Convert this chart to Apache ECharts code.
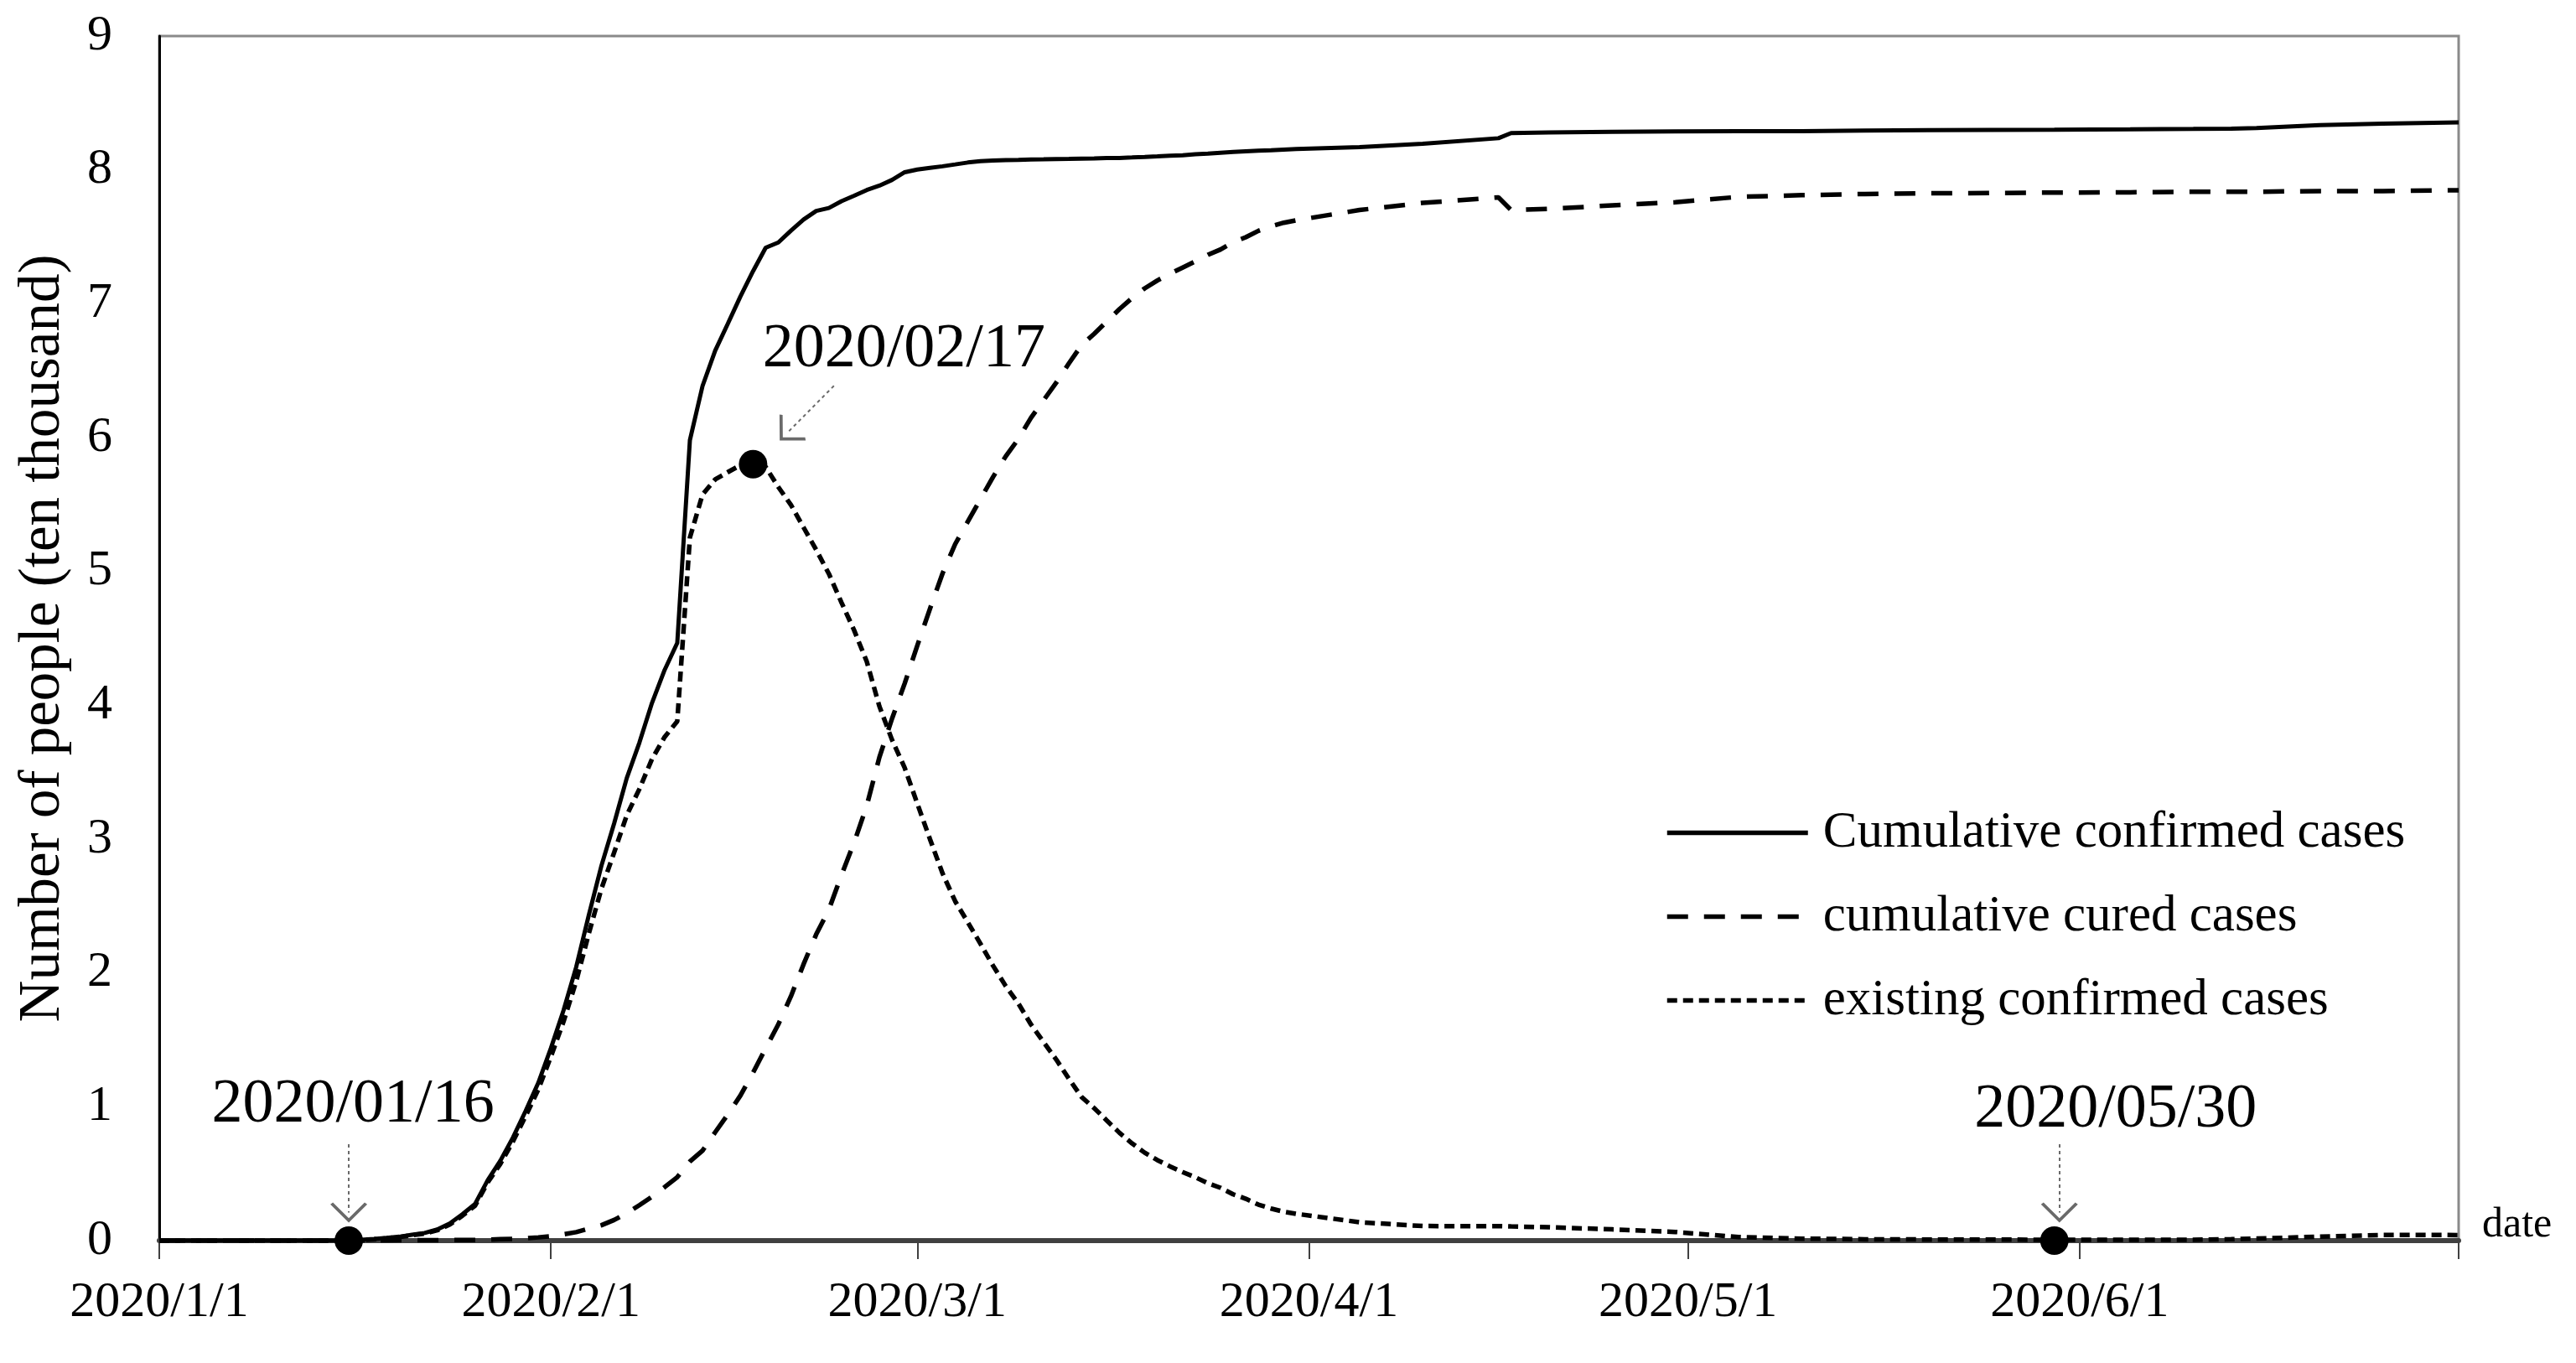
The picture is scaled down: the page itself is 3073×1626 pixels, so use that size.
<!DOCTYPE html>
<html><head><meta charset="utf-8">
<script src="https://cdn.jsdelivr.net/npm/echarts@6/dist/echarts.min.js"></script>
<style>html,body{margin:0;padding:0;background:#fff}#c{width:3073px;height:1626px}</style>
</head><body><div id="c"></div>
<script>
// ---------- DATA (ten thousand people) ----------
const dates = [
 '2020-01-01','2020-01-15',
 '2020-01-16','2020-01-17','2020-01-18','2020-01-19','2020-01-20','2020-01-21','2020-01-22','2020-01-23',
 '2020-01-24','2020-01-25','2020-01-26','2020-01-27','2020-01-28','2020-01-29','2020-01-30','2020-01-31',
 '2020-02-01','2020-02-02','2020-02-03','2020-02-04','2020-02-05','2020-02-06','2020-02-07','2020-02-08',
 '2020-02-09','2020-02-10','2020-02-11','2020-02-12','2020-02-13','2020-02-14','2020-02-15','2020-02-16',
 '2020-02-17','2020-02-18','2020-02-19','2020-02-20','2020-02-21','2020-02-22','2020-02-23','2020-02-24',
 '2020-02-25','2020-02-26','2020-02-27','2020-02-28','2020-02-29',
 '2020-03-01','2020-03-02','2020-03-03','2020-03-04','2020-03-05','2020-03-06','2020-03-07','2020-03-08',
 '2020-03-09','2020-03-10','2020-03-11','2020-03-12','2020-03-13','2020-03-14','2020-03-15','2020-03-16',
 '2020-03-17','2020-03-18','2020-03-19','2020-03-20','2020-03-21','2020-03-22','2020-03-23','2020-03-24',
 '2020-03-25','2020-03-26','2020-03-27','2020-03-28','2020-03-29','2020-03-30','2020-03-31',
 '2020-04-05','2020-04-10','2020-04-16','2020-04-17','2020-04-20','2020-04-25','2020-04-30',
 '2020-05-05','2020-05-10','2020-05-15','2020-05-20','2020-05-25','2020-05-30',
 '2020-06-05','2020-06-10','2020-06-13','2020-06-15','2020-06-20','2020-06-25','2020-06-30','2020-07-01'
];
const confirmed = [
 0,0,
 0.0045,0.0062,0.0121,0.0198,0.0291,0.0440,0.0571,0.0830,0.1287,0.1975,0.2744,0.4515,0.5974,0.7711,0.9692,1.1791,
 1.4380,1.7205,2.0438,2.4324,2.8018,3.1161,3.4546,3.7198,4.0171,4.2638,4.4653,5.9804,6.3851,6.6492,6.8500,7.0548,
 7.2436,7.4185,7.4576,7.5465,7.6288,7.6936,7.7150,7.7658,7.8064,7.8497,7.8824,7.9251,7.9824,
 8.0026,8.0151,8.0270,8.0409,8.0552,8.0651,8.0695,8.0735,8.0754,8.0778,8.0793,8.0813,8.0824,8.0844,8.0860,8.0881,
 8.0894,8.0928,8.0967,8.1008,8.1054,8.1093,8.1171,8.1218,8.1285,8.1340,8.1394,8.1439,8.1470,8.1518,8.1554,
 8.1708,8.1953,8.2367,8.2750,8.2800,8.2840,8.2870,
 8.2885,8.2895,8.2935,8.2965,8.2985,8.3001,
 8.3030,8.3057,8.3075,8.3132,8.3352,8.3462,8.3531,8.3545
];
const cured = [
 0,0,
 0.0012,0.0015,0.0017,0.0020,0.0025,0.0028,0.0028,0.0034,0.0038,0.0049,0.0051,0.0060,0.0103,0.0124,0.0171,0.0243,
 0.0328,0.0475,0.0632,0.0892,0.1153,0.1540,0.2050,0.2649,0.3281,0.3996,0.4740,0.5911,0.6723,0.8096,0.9419,1.0844,
 1.2552,1.4376,1.6155,1.8264,2.0659,2.2888,2.4734,2.7323,2.9745,3.2495,3.6117,3.9002,4.1625,
 4.4462,4.7204,4.9856,5.2045,5.3726,5.5404,5.7065,5.8600,5.9897,6.1475,6.2793,6.4111,6.5541,6.6911,6.7749,6.8679,
 6.9601,7.0420,7.1150,7.1740,7.2244,7.2703,7.3159,7.3650,7.4051,7.4588,7.4971,7.5448,7.5790,7.6052,7.6238,
 7.7001,7.7531,7.7944,7.7000,7.7090,7.7346,7.7582,
 7.7984,7.8109,7.8198,7.8249,7.8272,7.8304,
 7.8327,7.8363,7.8367,7.8367,7.8421,7.8413,7.8479,7.8482
];
const existing = [
 0,0,
 0.0030,0.0045,0.0100,0.0175,0.0260,0.0403,0.0526,0.0771,0.1208,0.1870,0.2613,0.4349,0.5739,0.7417,0.9308,1.1289,
 1.3748,1.6369,1.9381,2.2942,2.6302,2.8985,3.1774,3.3738,3.5982,3.7626,3.8800,5.2526,5.5748,5.6873,5.7416,5.7934,
 5.8016,5.7805,5.6303,5.4965,5.3284,5.1606,4.9824,4.7672,4.5604,4.3258,3.9919,3.7414,3.5329,
 3.2652,3.0004,2.7433,2.5352,2.3784,2.2177,2.0533,1.9016,1.7721,1.6145,1.4831,1.3526,1.2094,1.0734,0.9898,0.8976,
 0.8056,0.7263,0.6569,0.6013,0.5549,0.5120,0.4735,0.4287,0.3947,0.3460,0.3128,0.2691,0.2396,0.2161,0.2004,
 0.1376,0.1089,0.1081,0.1058,0.1000,0.0838,0.0647,
 0.0267,0.0148,0.0101,0.0084,0.0079,0.0063,
 0.0069,0.0060,0.0108,0.0149,0.0297,0.0415,0.0418,0.0410
];
const seriesNames = ['Cumulative confirmed cases','cumulative cured cases','existing confirmed cases'];
const keyDates = ['2020-01-16','2020-02-17','2020-05-30'];
const keyValues = [0, 5.8016, 0];
const keyLabels = ['2020/01/16','2020/02/17','2020/05/30'];
const xLabelDates = ['2020-01-01','2020-02-01','2020-03-01','2020-04-01','2020-05-01','2020-06-01'];
const xTickDates = ['2020-01-01','2020-02-01','2020-03-01','2020-04-01','2020-05-01','2020-06-01','2020-07-01'];
const xRange = ['2020-01-01','2020-07-01'];
const yMin = 0, yMax = 9, yStep = 1;
const yTitle = 'Number of people (ten thousand)';
const xTitle = 'date';

// ---------- BUILD ----------
// x is expressed in days since the start date of the axis
const DAY = 86400000;
function dateObj(s){ const p = s.split('-').map(Number); return new Date(Date.UTC(p[0], p[1]-1, p[2])); }
const T0 = dateObj(xRange[0]).getTime();
function dayNum(s){ return Math.round((dateObj(s).getTime() - T0) / DAY); }
function dayLabel(n){ const d = new Date(T0 + Math.round(n) * DAY); return d.getUTCFullYear()+'/'+(d.getUTCMonth()+1)+'/'+d.getUTCDate(); }
const FONT = 'Liberation Serif';
const toPairs = vals => dates.map((d,i) => [dayNum(d), vals[i]]);

// annotation arrow geometry relative to key points (days, value units)
const arrowRel = [
  {from:[0,0.72], to:[0,0.21]},
  {from:[6.4,0.585], to:[2.67,0.23]},
  {from:[0.4,0.72], to:[0.4,0.21]}
];
const labelOffsets = [[5,-161],[180,-136],[73,-155]];
const chevron = 'path://M0,10 L10,0 L20,10 L18.6,11 L10,2.4 L1.4,11 Z';

const chart = echarts.init(document.getElementById('c'), null, {renderer:'canvas'});
const option = {
  animation: false,
  backgroundColor: '#fff',
  textStyle: {fontFamily: FONT, color: '#000'},
  grid: {left:190, right:140, top:43, bottom:146, show:true, borderColor:'#8a8a8a', borderWidth:3, containLabel:false},
  legend: {
    data: seriesNames, orient:'vertical', left:1981, top:958,
    itemWidth:168, itemHeight:40, itemGap:39,
    itemStyle:{color:'rgba(0,0,0,0)', borderColor:'rgba(0,0,0,0)', borderWidth:0, opacity:0},
    lineStyle:{width:5.5},
    textStyle:{fontFamily:FONT, fontSize:61, color:'#000', padding:[0,0,0,13]}
  },
  xAxis: {
    type:'value', min: dayNum(xRange[0]), max: dayNum(xRange[1]),
    name: xTitle, nameLocation:'end', nameGap:28,
    nameTextStyle:{fontFamily:FONT, fontSize:50, color:'#000', verticalAlign:'bottom', lineHeight:36},
    axisLine:{show:true, onZero:false, lineStyle:{color:'#404040', width:6}},
    axisTick:{show:true, inside:false, length:22, lineStyle:{color:'#404040', width:2}, customValues: xTickDates.map(dayNum)},
    axisLabel:{show:true, margin:44, fontFamily:FONT, fontSize:60, color:'#000',
      customValues: xLabelDates.map(dayNum), formatter: v => dayLabel(v)},
    splitLine:{show:false}
  },
  yAxis: {
    type:'value', min:yMin, max:yMax, interval:yStep,
    name: yTitle, nameLocation:'middle', nameRotate:90, nameGap:104,
    nameTextStyle:{fontFamily:FONT, fontSize:69, color:'#000'},
    axisLine:{show:true, lineStyle:{color:'#000', width:3}},
    axisTick:{show:false},
    axisLabel:{margin:56, fontFamily:FONT, fontSize:60, color:'#000'},
    splitLine:{show:false}
  },
  series: [
    {name:seriesNames[0], type:'line', data:toPairs(confirmed), symbol:'none', smooth:false,
     lineStyle:{color:'#000', width:5, type:'solid'}, itemStyle:{color:'#000'}, z:3},
    {name:seriesNames[1], type:'line', data:toPairs(cured), symbol:'none', smooth:false,
     lineStyle:{color:'#000', width:5.5, type:[25,19]}, itemStyle:{color:'#000'}, z:3},
    {name:seriesNames[2], type:'line', data:toPairs(existing), symbol:'none', smooth:false,
     lineStyle:{color:'#000', width:5.5, type:[12,7]}, itemStyle:{color:'#000'}, z:3},
    {name:'key dates', type:'scatter', symbol:'circle', symbolSize:34, z:6,
     itemStyle:{color:'#000', opacity:1},
     data: keyDates.map((d,i) => ({value:[dayNum(d), keyValues[i]], label:{offset:labelOffsets[i]}})),
     label:{show:true, position:'inside', fontFamily:FONT, fontSize:74, color:'#000', opacity:1,
            formatter: p => keyLabels[p.dataIndex]},
     markLine:{
       silent:true, animation:false,
       symbol:['none', chevron], symbolSize:[44,24],
       label:{show:false},
       lineStyle:{color:'#6a6a6a', width:2, type:[4,4], opacity:1},
       emphasis:{disabled:true},
       data: keyDates.map((d,i) => [
         {coord:[dayNum(d)+arrowRel[i].from[0], keyValues[i]+arrowRel[i].from[1]]},
         {coord:[dayNum(d)+arrowRel[i].to[0], keyValues[i]+arrowRel[i].to[1]]}
       ])
     }}
  ]
};
chart.setOption(option);
</script></body></html>
